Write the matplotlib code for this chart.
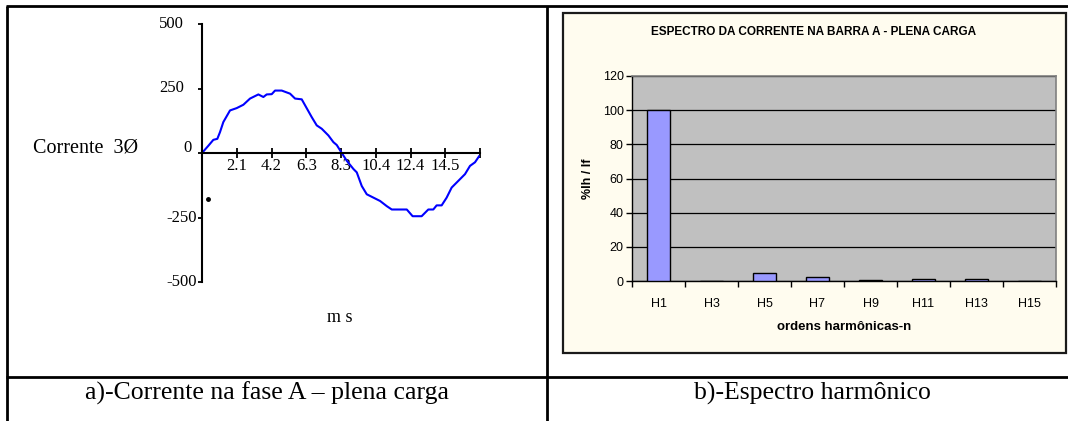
import matplotlib
matplotlib.use("Agg")
import matplotlib.pyplot as plt
from matplotlib.patches import Rectangle
from matplotlib.lines import Line2D

# ---- data: phase A current over one 60 Hz cycle (ms, A) ----
time_ms = [0.0, 0.38, 0.68, 0.92, 1.08, 1.28, 1.68, 2.08, 2.48, 2.88, 3.38, 3.68,
           3.88, 4.18, 4.38, 4.78, 5.28, 5.58, 5.98, 6.18, 6.58, 6.88, 7.18, 7.58,
           7.88, 8.08, 8.38, 8.68, 9.08, 9.28, 9.58, 9.88, 10.28, 10.68, 11.08,
           11.38, 12.28, 12.63, 13.17, 13.57, 13.87, 14.07, 14.37, 14.67, 14.97,
           15.37, 15.77, 16.07, 16.37, 16.61]
current_a = [0, 28, 51, 55, 81, 120, 165, 174, 187, 211, 227, 217,
             227, 228, 242, 242, 230, 211, 208, 185, 139, 107, 94, 68,
             42, 31, 0, -30, -62, -75, -128, -160, -173, -186, -206,
             -219, -219, -245, -245, -219, -219, -203, -203, -173, -134,
             -108, -82, -50, -36, -13]
marker_point = (0.35, -180)
cycle_ms = 16.67
time_tick_labels = ["2.1", "4.2", "6.3", "8.3", "10.4", "12.4", "14.5", ""]
current_ticks = [-500, -250, 0, 250, 500]

# ---- data: harmonic spectrum (% of fundamental) ----
harmonics = ["H1", "H3", "H5", "H7", "H9", "H11", "H13", "H15"]
percent_ih = [100, 0, 4.8, 2.4, 0.3, 1.3, 1.1, 0]
percent_ticks = [0, 20, 40, 60, 80, 100, 120]

W, H = 1068, 421
fig = plt.figure(figsize=(W / 100, H / 100), dpi=100)
fig.patch.set_facecolor("white")

def fx(px):
    return px / W

def fy(py):
    return 1 - py / H

serif = "Liberation Serif"
sans = "Liberation Sans"

# ---- table frame ----
lw_frame = 2.0
for (x0, y0, x1, y1) in [(7, 5.5, 7, H), (6, 5.5, W, 5.5),
                         (547, 5.5, 547, H), (6, 377, W, 377)]:
    fig.add_artist(Line2D([fx(x0), fx(x1)], [fy(y0), fy(y1)], color="black",
                          lw=lw_frame, solid_capstyle="butt"))

# ---- left panel: waveform ----
ax1 = fig.add_axes([fx(202), fy(282), fx(480) - fx(202), fy(24) - fy(282)])
ax1.set_facecolor("none")
ax1.plot(time_ms, current_a, color="#0000ff", lw=1.5)
ax1.plot([marker_point[0]], [marker_point[1]], "o", color="black", ms=2.5)
ax1.set_xlim(0, cycle_ms)
ax1.set_ylim(-500, 500)
ax1.spines["top"].set_visible(False)
ax1.spines["right"].set_visible(False)
ax1.spines["bottom"].set_position(("data", 0))
for s in ("left", "bottom"):
    ax1.spines[s].set_linewidth(1.5)
xt = [cycle_ms * k / 8 for k in range(1, 9)]
ax1.set_xticks(xt)
ax1.set_xticklabels(time_tick_labels, fontfamily=serif, fontsize=12)
ax1.tick_params(axis="x", direction="inout", length=7, width=1.3, pad=0)
ax1.set_yticks(current_ticks)
ax1.set_yticklabels([])
ax1.tick_params(axis="y", direction="out", length=3, width=1.3)
# value labels on the current axis (positive ones sit further out)
for v in current_ticks:
    if v > 0:
        dx, dy = -18, 0
    elif v == 0:
        dx, dy = -10, 5
    else:
        dx, dy = -5, 0
    ax1.annotate(str(v), xy=(0, v), xycoords=("axes fraction", "data"),
                 xytext=(dx, dy), textcoords="offset pixels",
                 ha="right", va="center", fontfamily=serif, fontsize=12)
fig.text(fx(33), fy(148), "Corrente  3Ø", fontfamily=serif, fontsize=14.5,
         ha="left", va="center")
fig.text(fx(340), fy(317), "m s", fontfamily=serif, fontsize=13,
         ha="center", va="center")

# ---- right panel: spectrum chart box ----
box = Rectangle((fx(563), fy(353)), fx(1066) - fx(563), fy(13) - fy(353),
                transform=fig.transFigure, facecolor="#fffcef",
                edgecolor="#1a1a1a", lw=1.6, zorder=0)
fig.add_artist(box)

ax2 = fig.add_axes([fx(632), fy(281), fx(1056) - fx(632), fy(76) - fy(281)])
ax2.set_facecolor("#c0c0c0")
xpos = list(range(len(harmonics)))
ax2.bar(xpos, percent_ih, width=0.42, color="#9999ff", edgecolor="black",
        lw=1.0, zorder=3)
ax2.set_xlim(-0.5, len(harmonics) - 0.5)
ax2.set_ylim(0, 120)
ax2.set_yticks(percent_ticks)
ax2.set_yticklabels([str(v) for v in percent_ticks], fontfamily=sans, fontsize=9)
ax2.yaxis.grid(True, color="black", lw=0.9)
ax2.set_axisbelow(True)
ax2.set_xticks(xpos)
ax2.set_xticklabels(harmonics, fontfamily=sans, fontsize=9)
ax2.tick_params(axis="x", length=0, pad=12)
ax2.set_xticks([i - 0.5 for i in range(len(harmonics) + 1)], minor=True)
ax2.tick_params(axis="x", which="minor", direction="out", length=4, width=1.0)
ax2.tick_params(axis="y", direction="out", length=4, width=1.0, pad=2)
ax2.spines["top"].set_color("#808080")
ax2.spines["right"].set_color("#808080")
ax2.spines["top"].set_linewidth(1.2)
ax2.spines["right"].set_linewidth(1.2)
ax2.spines["left"].set_linewidth(1.0)
ax2.spines["bottom"].set_linewidth(1.0)
ax2.set_ylabel("%Ih / If", fontfamily=sans, fontsize=9, fontweight="bold",
               labelpad=6)
ax2.set_xlabel("ordens harmônicas-n", fontfamily=sans, fontsize=9.5,
               fontweight="bold", labelpad=8)
fig.text(fx(814), fy(32), "ESPECTRO DA CORRENTE NA BARRA A - PLENA CARGA",
         fontfamily=sans, fontsize=8.5, fontweight="bold", ha="center", va="center")

# ---- captions ----
fig.text(fx(267), fy(393), "a)-Corrente na fase A – plena carga",
         fontfamily=serif, fontsize=18.5, ha="center", va="center")
fig.text(fx(812), fy(393), "b)-Espectro harmônico",
         fontfamily=serif, fontsize=18.5, ha="center", va="center")

fig.savefig("out.png", dpi=100, facecolor="white")
